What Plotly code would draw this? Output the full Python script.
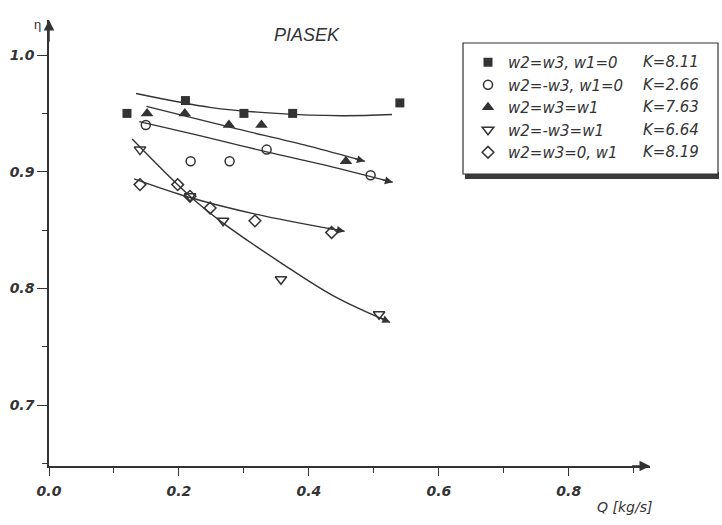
import plotly.graph_objects as go

# ---- data ----
series_names = ["w2=w3, w1=0", "w2=-w3, w1=0", "w2=w3=w1", "w2=-w3=w1", "w2=w3=0, w1"]
k_labels = ["K=8.11", "K=2.66", "K=7.63", "K=6.64", "K=8.19"]

q_sq = [0.12, 0.21, 0.30, 0.375, 0.54]
eta_sq = [0.950, 0.961, 0.950, 0.950, 0.959]

q_ci = [0.149, 0.218, 0.278, 0.335, 0.495]
eta_ci = [0.940, 0.909, 0.909, 0.919, 0.897]

q_tu = [0.151, 0.209, 0.277, 0.327, 0.457]
eta_tu = [0.950, 0.950, 0.940, 0.940, 0.909]

q_td = [0.140, 0.217, 0.268, 0.357, 0.508]
eta_td = [0.919, 0.879, 0.858, 0.808, 0.778]

q_di = [0.140, 0.198, 0.217, 0.248, 0.317, 0.435]
eta_di = [0.889, 0.889, 0.879, 0.869, 0.858, 0.848]

# fitted curves
fit_q_sq = [0.134, 0.25, 0.35, 0.45, 0.528]
fit_eta_sq = [0.967, 0.955, 0.950, 0.948, 0.949]
fit_q_ci = [0.139, 0.232, 0.335, 0.437, 0.529]
fit_eta_ci = [0.943, 0.931, 0.917, 0.904, 0.891]
fit_q_tu = [0.150, 0.28, 0.40, 0.486]
fit_eta_tu = [0.956, 0.938, 0.922, 0.909]
fit_q_td = [0.128, 0.217, 0.268, 0.357, 0.44, 0.525]
fit_eta_td = [0.928, 0.879, 0.856, 0.822, 0.793, 0.771]
fit_q_di = [0.131, 0.217, 0.316, 0.455]
fit_eta_di = [0.894, 0.878, 0.864, 0.849]

x_ticks = [0.0, 0.2, 0.4, 0.6, 0.8]
y_ticks = [0.7, 0.8, 0.9, 1.0]

INK = "#333333"
FONT = "DejaVu Sans, sans-serif"
FONT_T = "Liberation Sans, Arial, sans-serif"

fig = go.Figure()

# fitted lines
fits = [(fit_q_sq, fit_eta_sq, False), (fit_q_ci, fit_eta_ci, True), (fit_q_tu, fit_eta_tu, True),
        (fit_q_td, fit_eta_td, True), (fit_q_di, fit_eta_di, True)]
for fq, fe, arrow in fits:
    fig.add_trace(go.Scatter(x=fq, y=fe, mode="lines", line=dict(color=INK, width=1.4, shape="spline"),
                             showlegend=False, hoverinfo="skip"))
    if arrow:
        t = 0.2
        fig.add_annotation(x=fq[-1], y=fe[-1], ax=fq[-1] - t * (fq[-1] - fq[-2]),
                           ay=fe[-1] - t * (fe[-1] - fe[-2]), xref="x", yref="y", axref="x", ayref="y",
                           showarrow=True, arrowhead=2, arrowsize=1.2, arrowwidth=1.3, arrowcolor=INK,
                           standoff=0, text="")

markers = [
    (q_sq, eta_sq, dict(symbol="square", size=9, color=INK, line=dict(width=0))),
    (q_ci, eta_ci, dict(symbol="circle-open", size=9, color=INK, line=dict(width=1.5))),
    (q_tu, eta_tu, dict(symbol="triangle-up", size=11, color=INK, line=dict(width=0))),
    (q_td, eta_td, dict(symbol="triangle-down-open", size=10, color=INK, line=dict(width=1.5))),
    (q_di, eta_di, dict(symbol="diamond-open", size=9, color=INK, line=dict(width=1.5))),
]
for (qq, ee, mk), name in zip(markers, series_names):
    fig.add_trace(go.Scatter(x=qq, y=ee, mode="markers", marker=mk, name=name))

# plot geometry (pixels)
W, H = 722, 525
L, R, T, B = 49, 72, 20, 59
pw, ph = W - L - R, H - T - B

def px(x):
    return (x - L) / pw

def py(y):
    return (H - B - y) / ph

x_range = [0.0, 0.925]
y_range = [0.648, 1.03]

axis_common = dict(showline=True, linecolor=INK, linewidth=1.5, showgrid=False, zeroline=False,
                   ticks="outside", tickcolor=INK, tickwidth=1.3, automargin=False,
                   tickfont=dict(family=FONT, size=14, color=INK, style="italic", weight="bold"))

fig.update_xaxes(range=x_range, tickvals=x_ticks, ticktext=[f"{v:.1f}" for v in x_ticks], ticklen=8,
                 ticklabelstandoff=3,
                 minor=dict(dtick=0.1, tick0=0, ticks="outside", ticklen=5, tickcolor=INK, tickwidth=1.2),
                 **axis_common)
fig.update_yaxes(range=y_range, tickvals=y_ticks, ticktext=[f"{v:.1f}" for v in y_ticks], ticklen=10,
                 minor=dict(dtick=0.05, tick0=0.7, ticks="outside", ticklen=5, tickcolor=INK, tickwidth=1.2),
                 **axis_common)

# axis arrows
fig.add_annotation(x=x_range[1], y=y_range[0], ax=x_range[1] - 0.03, ay=y_range[0], xref="x", yref="y",
                   axref="x", ayref="y", showarrow=True, arrowhead=2, arrowsize=1.4, arrowwidth=1.5,
                   arrowcolor=INK, standoff=0, text="")
fig.add_annotation(x=x_range[0], y=y_range[1], ax=x_range[0], ay=y_range[1] - 0.02, xref="x", yref="y",
                   axref="x", ayref="y", showarrow=True, arrowhead=2, arrowsize=1.4, arrowwidth=1.5,
                   arrowcolor=INK, standoff=0, text="")

# texts
fig.add_annotation(x=px(307), y=py(23), xref="paper", yref="paper", text="PIASEK", showarrow=False,
                   font=dict(family=FONT_T, size=18, color=INK, style="italic"))
fig.add_annotation(x=px(32), y=py(15), xref="paper", yref="paper", text="η", showarrow=False,
                   font=dict(family=FONT_T, size=13, color=INK))
fig.add_annotation(x=px(654), y=py(517), xref="paper", yref="paper", text="Q [kg/s]", showarrow=False,
                   xanchor="right", font=dict(family=FONT, size=14, color=INK, style="italic"))

# legend box with shadow
box_l, box_r, box_t, box_b = 463, 718, 43, 174
fig.add_shape(type="rect", xref="paper", yref="paper", x0=px(box_l + 2), x1=px(box_r + 1),
              y0=py(box_b + 5), y1=py(box_b - 2), fillcolor="#3a3a3a", line=dict(width=0), layer="above")
fig.add_shape(type="rect", xref="paper", yref="paper", x0=px(box_l), x1=px(box_r),
              y0=py(box_b), y1=py(box_t), fillcolor="white", line=dict(color=INK, width=1.2), layer="above")

LEG_FS = 15
leg_top = 46
item_h = max(LEG_FS * 1.3, 16) + 3
for i, k in enumerate(k_labels):
    ry = leg_top + 5 + item_h / 2 + i * item_h
    fig.add_annotation(x=px(641), y=py(ry), xref="paper", yref="paper", text=k, showarrow=False,
                       xanchor="left", yanchor="middle",
                       font=dict(family=FONT, size=LEG_FS, color=INK, style="italic"))

fig.update_layout(
    width=W, height=H, margin=dict(l=L, r=R, t=T, b=B, autoexpand=False),
    paper_bgcolor="white", plot_bgcolor="white",
    showlegend=True,
    legend=dict(x=px(468), y=py(leg_top), xanchor="left", yanchor="top", bgcolor="rgba(0,0,0,0)",
                borderwidth=0, font=dict(family=FONT, size=LEG_FS, color=INK, style="italic"),
                itemclick=False),
)

fig.write_html("out.html")
